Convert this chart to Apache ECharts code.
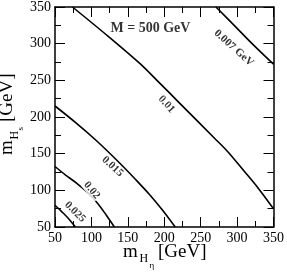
<!DOCTYPE html>
<html>
<head>
<meta charset="utf-8">
<script src="https://cdn.jsdelivr.net/npm/echarts@6/dist/echarts.min.js"></script>
<style>html,body{margin:0;padding:0;background:#fff;}#c{width:287px;height:273px;}</style>
</head>
<body>
<div id="c"></div>
<script>
// contour lines (m_Heta, m_Hs) in GeV
const c0025 = [[50,79.7],[59.5,70.7],[69,61],[78,50]];
const c002  = [[50,132.5],[65,120.5],[80,109.5],[96,96],[109.5,81],[120.5,66],[131.5,50]];
const c0015 = [[50,215],[80,191],[107,167.6],[138,138],[160,115.5],[180,94],[198,72.5],[215,50]];
const c001  = [[74,350],[120,312.5],[166,273.4],[191,249],[220,220],[268,172],[286,154],[309,127],[329,103],[350,75]];
const c0007 = [[271,350],[296,325],[322.7,298],[350,272]];
const contours = [c0025, c002, c0015, c001, c0007];

// contour labels
const labelTexts  = ['0.025','0.02','0.015','0.01','0.007 GeV'];
const labelX      = [77.5, 100.5, 129, 203, 295.5];
const labelY      = [70.5, 100, 132.5, 217.5, 294];
const labelAngles = [-45, -50, -43, -48, -42];

const xTicks = [50,100,150,200,250,300,350];
const yTicks = [50,100,150,200,250,300,350];
const titleText = 'M = 500 GeV';
const titlePos = [181, 321];

const chart = echarts.init(document.getElementById('c'));
const serif = 'Liberation Serif';
function axisBase(ticks, pos, showLabel){
  return {
    type:'value', min:ticks[0], max:ticks[ticks.length-1], interval:ticks[1]-ticks[0],
    position:pos,
    axisLine:{show:true, lineStyle:{color:'#000', width:1.5}},
    axisTick:{show:true, inside:true, length:10, lineStyle:{color:'#000', width:1}},
    minorTick:{show:true, splitNumber:2, length:6, lineStyle:{color:'#000', width:1}},
    splitLine:{show:false},
    axisLabel:{show:showLabel, color:'#000', fontFamily:serif, fontSize:14, margin:4}
  };
}
const xa = [axisBase(xTicks, 'bottom', true), axisBase(xTicks, 'top', false)];
const ya = [axisBase(yTicks, 'left', true), axisBase(yTicks, 'right', false)];

const series = contours.map(c => ({
  type:'line', data:c, smooth:0.35, showSymbol:false, symbol:'none',
  lineStyle:{color:'#000', width:1.6}, xAxisIndex:0, yAxisIndex:0, silent:true, z:2
}));
series.push({
  type:'scatter', symbolSize:0, xAxisIndex:0, yAxisIndex:0, silent:true, z:3,
  data: labelTexts.map((t,i)=>({
    value:[labelX[i], labelY[i]],
    label:{show:true, position:'inside', formatter:t, rotate:labelAngles[i],
      color:'#000', fontFamily:serif, fontWeight:'bold', fontSize:11,
      backgroundColor:'#fff', padding:[0,1]}
  }))
});
series.push({
  type:'scatter', symbolSize:0, xAxisIndex:0, yAxisIndex:0, silent:true, z:3,
  data:[{value:titlePos, label:{show:true, position:'inside', formatter:titleText,
    color:'#000', fontFamily:serif, fontWeight:'bold', fontSize:14}}]
});

function t(text, x, y, size){
  return {type:'text', x:x, y:y, style:{text:text, fill:'#000', font: size+'px "Liberation Serif"', verticalAlign:'middle', align:'left'}};
}
chart.setOption({
  animation:false,
  grid:{left:55, right:12, top:5, bottom:46, containLabel:false},
  xAxis:xa, yAxis:ya, series:series,
  graphic:[
    {type:'group', x:123, y:258, children:[
      t('m', 0, -6, 19), t('H', 16.5, 1.2, 12), t('η', 26.5, 8, 9), t('[GeV]', 35, -6, 19)
    ]},
    {type:'group', x:13.5, y:155, rotation:Math.PI/2, children:[
      t('m', 0, -6, 19), t('H', 15.5, 1.2, 12), t('s', 24.5, 7, 9), t('[GeV]', 33, -6, 19)
    ]}
  ]
});
</script>
</body>
</html>
